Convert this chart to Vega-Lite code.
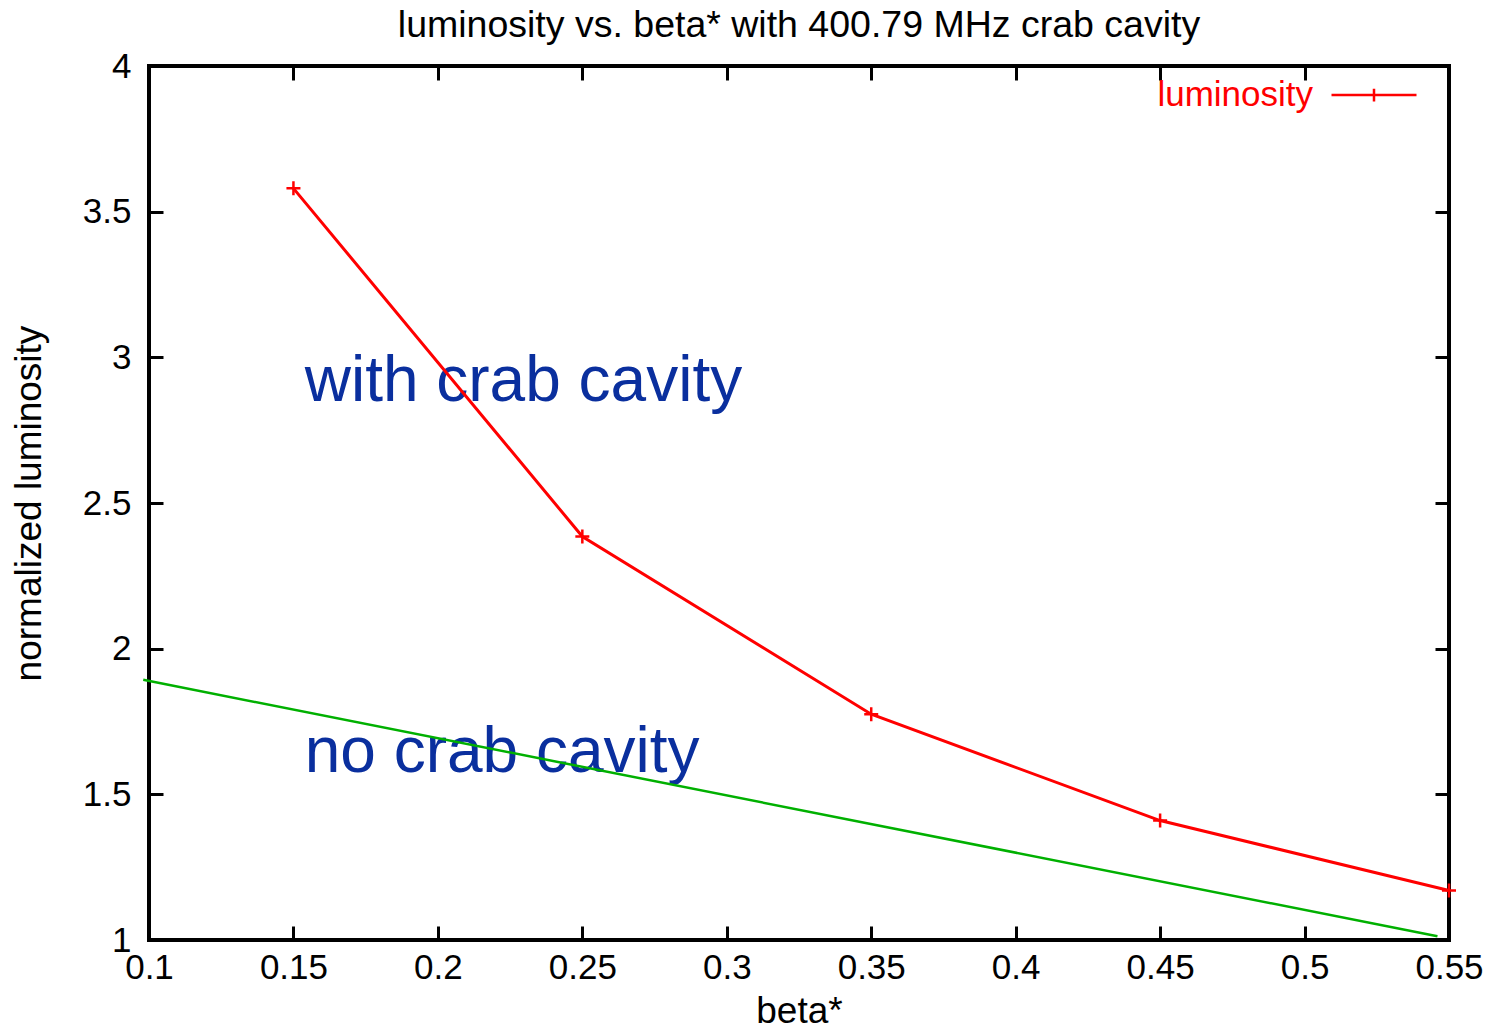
{
  "$schema": "https://vega.github.io/schema/vega-lite/v6.json",
  "width": 1300,
  "height": 874,
  "autosize": {"type": "none"},
  "padding": {"left": 149, "top": 66, "right": 50, "bottom": 90},
  "background": "white",
  "title": {
    "text": "luminosity vs. beta* with 400.79 MHz crab cavity",
    "font": "Liberation Sans",
    "fontSize": 37.5,
    "fontWeight": "normal",
    "color": "black",
    "offset": 5
  },
  "config": {
    "view": {"stroke": "black", "strokeWidth": 4},
    "axis": {
      "grid": false,
      "domain": false,
      "tickColor": "black",
      "tickWidth": 3,
      "tickSize": -14,
      "labelFont": "Liberation Sans",
      "labelFontSize": 35,
      "labelColor": "black",
      "labelFlush": false,
      "labelOverlap": false,
      "format": "~g",
      "titleFont": "Liberation Sans",
      "titleFontSize": 37,
      "titleFontWeight": "normal",
      "titleColor": "black"
    }
  },
  "datasets": {
    "lum": [
      {"beta": 0.15, "lum": 3.58, "series": "luminosity"},
      {"beta": 0.25, "lum": 2.385, "series": "luminosity"},
      {"beta": 0.35, "lum": 1.775, "series": "luminosity"},
      {"beta": 0.45, "lum": 1.41, "series": "luminosity"},
      {"beta": 0.55, "lum": 1.17, "series": "luminosity"}
    ],
    "nocrab": [
      {"beta": 0.098, "lum": 1.893},
      {"beta": 0.546, "lum": 1.013}
    ],
    "notes": [
      {"beta": 0.1539, "lum": 2.85, "label": "with crab cavity"},
      {"beta": 0.1539, "lum": 1.578, "label": "no crab cavity"}
    ]
  },
  "resolve": {"axis": {"x": "independent", "y": "independent"}},
  "layer": [
    {
      "data": {"name": "notes"},
      "mark": {"type": "text", "font": "Liberation Sans", "fontSize": 64, "color": "#0a2f9e", "align": "left", "baseline": "alphabetic"},
      "encoding": {
        "x": {"field": "beta", "type": "quantitative", "axis": null},
        "y": {"field": "lum", "type": "quantitative", "axis": null},
        "text": {"field": "label"}
      }
    },
    {
      "data": {"name": "nocrab"},
      "mark": {"type": "line", "color": "#00b000", "strokeWidth": 2.5, "clip": false},
      "encoding": {
        "x": {"field": "beta", "type": "quantitative", "scale": {"domain": [0.1, 0.55], "nice": false, "zero": false},
              "axis": {"orient": "top", "labels": false, "title": null, "values": [0.1, 0.15, 0.2, 0.25, 0.3, 0.35, 0.4, 0.45, 0.5, 0.55]}},
        "y": {"field": "lum", "type": "quantitative", "scale": {"domain": [1, 4], "nice": false, "zero": false},
              "axis": {"orient": "right", "labels": false, "title": null, "values": [1, 1.5, 2, 2.5, 3, 3.5, 4]}}
      }
    },
    {
      "data": {"name": "lum"},
      "mark": {"type": "line", "strokeWidth": 3},
      "encoding": {
        "x": {"field": "beta", "type": "quantitative", "title": "beta*",
              "axis": {"orient": "bottom", "values": [0.1, 0.15, 0.2, 0.25, 0.3, 0.35, 0.4, 0.45, 0.5, 0.55], "labelPadding": 24, "titlePadding": 8}},
        "y": {"field": "lum", "type": "quantitative", "title": "normalized luminosity",
              "axis": {"orient": "left", "values": [1, 1.5, 2, 2.5, 3, 3.5, 4], "labelPadding": 32, "titlePadding": 34}},
        "color": {
          "field": "series", "type": "nominal",
          "scale": {"range": ["#ff0000"]},
          "legend": {
            "title": null,
            "orient": "none",
            "legendX": 1181,
            "legendY": -15,
            "symbolType": "M-1,0L1,0M0,-0.15L0,0.15",
            "symbolSize": 7225,
            "symbolStrokeWidth": 2.5,
            "symbolStrokeColor": "#ff0000",
            "symbolFillColor": "transparent",
            "labelFont": "Liberation Sans",
            "labelFontSize": 35,
            "labelColor": "#ff0000",
            "labelAlign": "right",
            "labelOffset": -105
          }
        }
      }
    },
    {
      "data": {"name": "lum"},
      "mark": {"type": "point", "shape": "M-1,0L1,0M0,-1L0,1", "size": 196, "filled": false, "strokeWidth": 2.5, "opacity": 1},
      "encoding": {
        "x": {"field": "beta", "type": "quantitative", "axis": null},
        "y": {"field": "lum", "type": "quantitative", "axis": null},
        "color": {"field": "series", "type": "nominal", "legend": null}
      }
    }
  ]
}
